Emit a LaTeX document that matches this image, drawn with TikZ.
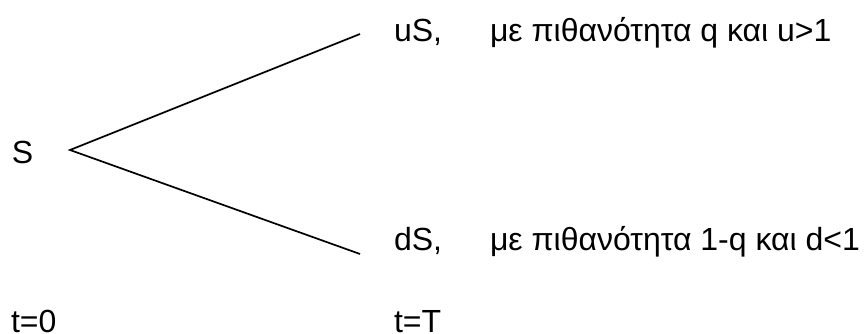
\documentclass[tikz,border=0pt]{standalone}
\usepackage{fontspec}
\setmainfont{Liberation Sans}
\begin{document}
\begin{tikzpicture}[x=1pt,y=-1pt,
  lbl/.style={anchor=base west,inner sep=0pt,outer sep=0pt,
    font=\fontsize{32}{36}\selectfont},
  branch/.style={line width=1.7pt}]
\useasboundingbox (0,0) rectangle (864,334);
% stock price tree: one period, two outcomes
\node[lbl] (s0) at (12,163) {S};
\coordinate (root) at (70,150);
\coordinate (upend) at (360,34);
\coordinate (downend) at (360,254);
\draw[branch] (upend) -- (root) -- (downend);
\node[lbl] (us) at (394,42) {uS,};
\node[lbl] (usp) at (490,42) {με πιθανότητα q και u>1};
\node[lbl] (ds) at (394,250) {dS,};
\node[lbl] (dsp) at (490,250) {με πιθανότητα 1-q και d<1};
% time axis labels
\node[lbl] (t0) at (11,332) {t=0};
\node[lbl] (tT) at (394,332) {t=T};
\end{tikzpicture}
\end{document}
